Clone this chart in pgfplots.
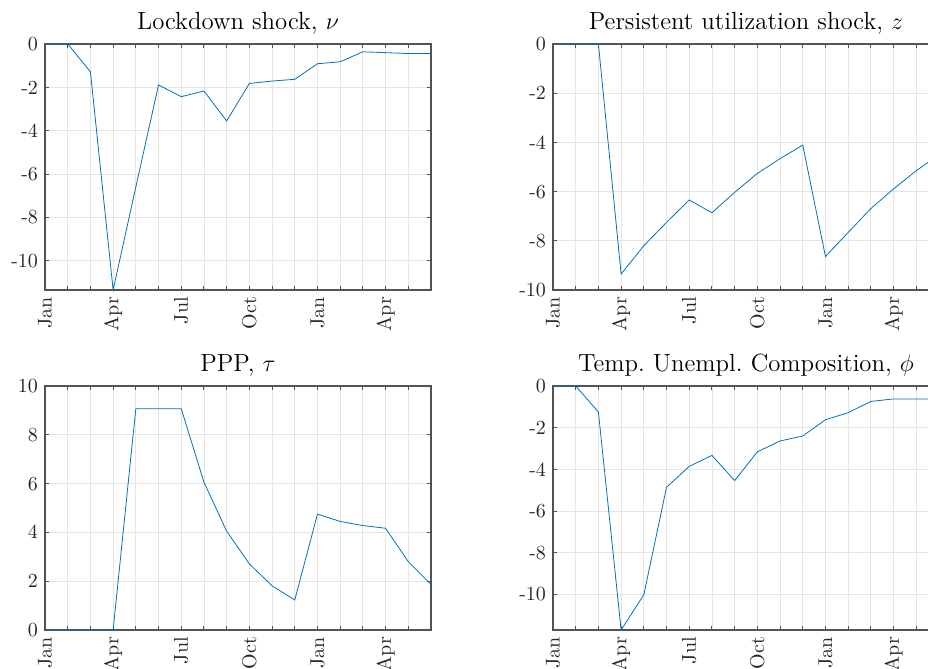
\documentclass[border=0pt]{standalone}
\usepackage{pgfplots}
\pgfplotsset{compat=1.18}

\definecolor{lineblue}{rgb}{0,0.447,0.741}
\definecolor{framegray}{rgb}{0.32,0.32,0.32}
\definecolor{gridgray}{rgb}{0.9,0.9,0.9}

\pgfplotsset{
  monthly/.style={
    scale only axis,
    width=193pt,
    xmin=0, xmax=17,
    xtick={0,...,17},
    xticklabels={Jan,,,Apr,,,Jul,,,Oct,,,Jan,,,Apr,,},
    xticklabel style={rotate=90, anchor=east},
    ticklabel style={font=\fontsize{10}{12}\selectfont, text=black!85},
    grid=major,
    major grid style={gridgray, line width=0.4pt},
    tick align=inside,
    major tick length=2.2pt,
    tick style={framegray, line width=0.5pt},
    axis line style={framegray, line width=0.6pt},
    every axis title/.style={at={(0.5,1)}, anchor=base, yshift=7pt,
      font=\fontsize{12.4}{14}\selectfont},
    clip=false,
    cycle list={{lineblue, line width=0.75pt, mark=none}},
  },
}

\begin{document}
\begin{tikzpicture}
% Lockdown shock
\begin{axis}[monthly, at={(22.5pt,189.5pt)}, anchor=south west, height=123pt,
  ymin=-11.35, ymax=0,
  ytick={-10,-8,-6,-4,-2,0}, yticklabels={{-10},{-8},{-6},{-4},{-2},{0}},
  title={Lockdown shock, $\nu$}]
\addplot coordinates {(0,0) (1,0) (2,-1.28) (3,-11.35) (4,-6.6) (5,-1.89)
  (6,-2.43) (7,-2.17) (8,-3.55) (9,-1.82) (10,-1.71) (11,-1.63) (12,-0.91)
  (13,-0.82) (14,-0.36) (15,-0.40) (16,-0.44) (17,-0.44)};
\end{axis}

% Persistent utilization shock
\begin{axis}[monthly, at={(276.5pt,189.5pt)}, anchor=south west, height=123pt,
  ymin=-10, ymax=0,
  ytick={-10,-8,-6,-4,-2,0}, yticklabels={{-10},{-8},{-6},{-4},{-2},{0}},
  title={Persistent utilization shock, $z$}]
\addplot coordinates {(0,0) (1,0) (2,0) (3,-9.35) (4,-8.2) (5,-7.25)
  (6,-6.34) (7,-6.86) (8,-6.03) (9,-5.26) (10,-4.66) (11,-4.11) (12,-8.64)
  (13,-7.66) (14,-6.69) (15,-5.89) (16,-5.15) (17,-4.5)};
\end{axis}

% PPP
\begin{axis}[monthly, at={(22.5pt,19.5pt)}, anchor=south west, height=122pt,
  ymin=0, ymax=10,
  ytick={0,2,4,6,8,10},
  title={PPP, $\tau$}]
\addplot coordinates {(0,0) (1,0) (2,0) (3,0) (4,9.07) (5,9.07)
  (6,9.07) (7,6.06) (8,4.05) (9,2.71) (10,1.81) (11,1.23) (12,4.75)
  (13,4.45) (14,4.28) (15,4.17) (16,2.80) (17,1.87)};
\end{axis}

% Temporary unemployment composition
\begin{axis}[monthly, at={(276.5pt,19.5pt)}, anchor=south west, height=122pt,
  ymin=-11.71, ymax=0,
  ytick={-10,-8,-6,-4,-2,0}, yticklabels={{-10},{-8},{-6},{-4},{-2},{0}},
  title={Temp.\ Unempl.\ Composition, $\phi$}]
\addplot coordinates {(0,0) (1,0) (2,-1.25) (3,-11.71) (4,-10.02) (5,-4.86)
  (6,-3.86) (7,-3.33) (8,-4.54) (9,-3.16) (10,-2.64) (11,-2.40) (12,-1.62)
  (13,-1.28) (14,-0.74) (15,-0.62) (16,-0.62) (17,-0.62)};
\end{axis}

\pgfresetboundingbox
\useasboundingbox (0,0) rectangle (464pt,334.5pt);
\end{tikzpicture}
\end{document}
